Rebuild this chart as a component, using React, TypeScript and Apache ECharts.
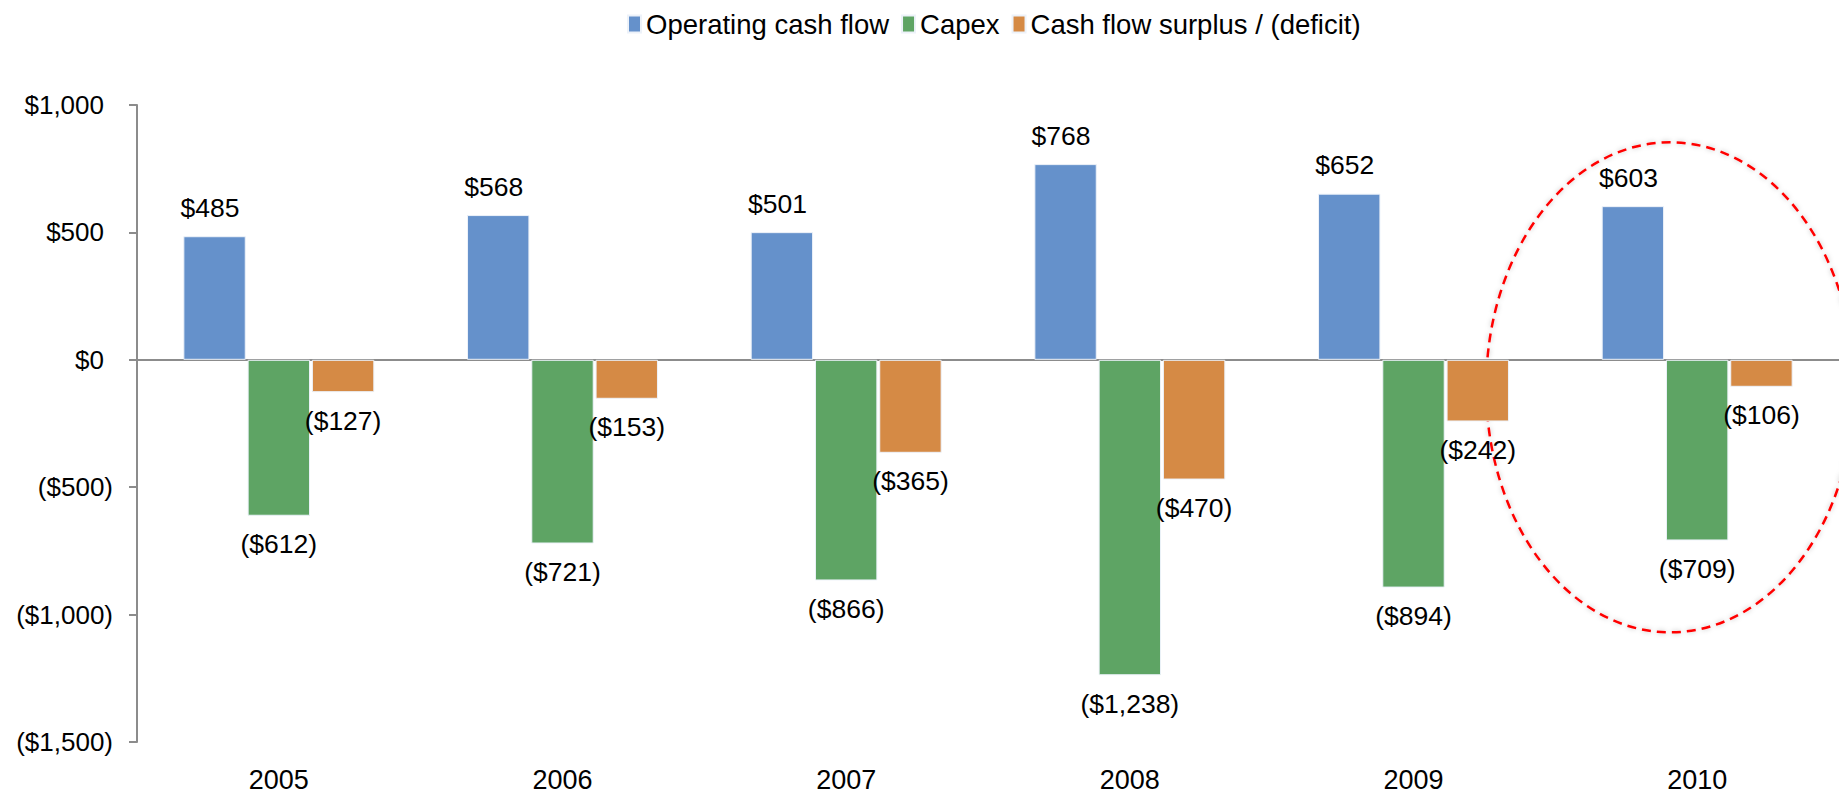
import React, { useEffect, useRef } from "react";
import * as echarts from "echarts";

const years = ["2005", "2006", "2007", "2008", "2009", "2010"];
const operatingCashFlow = [485, 568, 501, 768, 652, 603];
const capex = [-612, -721, -866, -1238, -894, -709];
const surplus = [-127, -153, -365, -470, -242, -106];
const seriesNames = ["Operating cash flow", "Capex", "Cash flow surplus / (deficit)"];
const colors = ["#6591cb", "#5ea464", "#d58a45"];

const FONT = "'Liberation Sans', Arial, sans-serif";
const FS = 26;
const FS_LABEL = 26.5;
const FS_LEGEND = 27.5;

function fmt(v: number): string {
  const s = "$" + Math.abs(v).toLocaleString("en-US");
  return v < 0 ? "(" + s + ")" : "{p|" + s + "}";
}

function richFor(size: number) {
  return { p: { fontSize: size, fontFamily: FONT, color: "#000", padding: [0, 9, 0, 0] } };
}

function makeSeries(name: string, values: number[], color: string) {
  return {
    name,
    type: "bar",
    xAxisIndex: 0,
    barWidth: "22%",
    barGap: "3%",
    itemStyle: { color, borderColor: "#edf2f9", borderWidth: 1 },
    data: values.map((v) => ({
      value: v,
      label: { position: v >= 0 ? "top" : "bottom" },
    })),
    label: {
      show: true,
      distance: 15,
      fontSize: FS_LABEL,
      fontFamily: FONT,
      color: "#000",
      rich: richFor(FS_LABEL),
      formatter: (p: any) => fmt(p.value),
    },
  };
}

export default function App() {
  const ref = useRef<HTMLDivElement>(null);
  useEffect(() => {
    document.body.style.margin = "0";
    if (!ref.current) return;
    const chart = echarts.init(ref.current, null, { renderer: "svg" });
    chart.setOption({
      animation: false,
      textStyle: { fontFamily: FONT },
      legend: {
        data: seriesNames,
        left: 622,
        top: 5,
        itemWidth: 13,
        itemHeight: 17,
        itemGap: 12,
        icon: "rect",
        textStyle: { fontSize: FS_LEGEND, fontFamily: FONT, color: "#000" },
      },
      color: colors,
      grid: { left: 137, right: 0, top: 105, bottom: 53 },
      xAxis: [
        {
          type: "category",
          data: years,
          position: "bottom",
          axisLine: { show: false, onZero: false },
          axisTick: { show: false },
          axisLabel: { fontSize: 27, fontFamily: FONT, color: "#000", margin: 24 },
        },
        {
          type: "category",
          data: years,
          position: "top",
          axisLine: { show: true, onZero: true, lineStyle: { color: "#8c8c8c", width: 2 } },
          axisTick: { show: false },
          axisLabel: { show: false },
        },
      ],
      yAxis: {
        type: "value",
        min: -1500,
        max: 1000,
        interval: 500,
        splitLine: { show: false },
        axisLine: { show: true, onZero: false, lineStyle: { color: "#8c8c8c", width: 2 } },
        axisTick: { show: true, length: 8, lineStyle: { color: "#8c8c8c", width: 2 } },
        axisLabel: {
          fontSize: FS,
          fontFamily: FONT,
          color: "#000",
          margin: 24,
          rich: richFor(FS),
          formatter: (v: number) => fmt(v),
        },
      },
      series: [
        makeSeries(seriesNames[0], operatingCashFlow, colors[0]),
        makeSeries(seriesNames[1], capex, colors[1]),
        makeSeries(seriesNames[2], surplus, colors[2]),
      ],
    });
    const c = chart.convertToPixel({ gridIndex: 0 }, [years.length - 1, -108]) as number[];
    chart.setOption({
      graphic: [
        {
          type: "ellipse",
          shape: { cx: c[0] - 27, cy: c[1], rx: 184, ry: 245 },
          style: {
            fill: "none",
            stroke: "#ff0000",
            lineWidth: 2.5,
            lineDash: [9, 6],
            shadowBlur: 5,
            shadowColor: "rgba(0,0,0,0.25)",
          },
          silent: true,
        },
      ],
    });
    return () => chart.dispose();
  }, []);
  return <div ref={ref} style={{ width: 1839, height: 795 }} />;
}
